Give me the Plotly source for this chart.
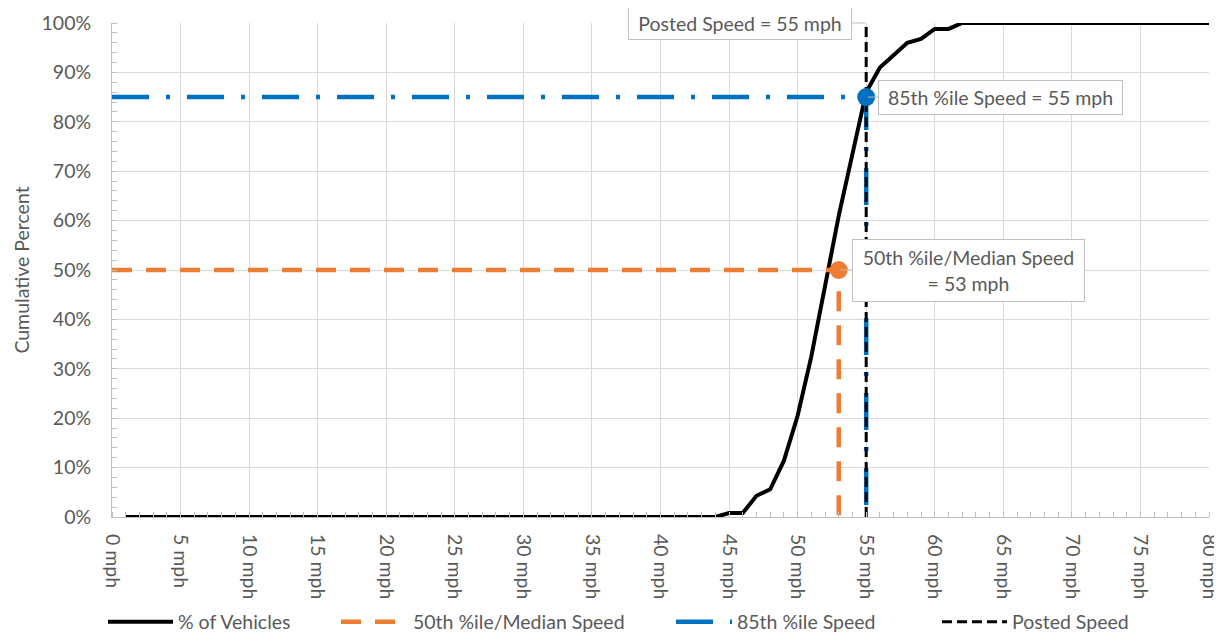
import plotly.graph_objects as go

# ---- data ----
speed_mph = [1, 2, 3, 4, 5, 6, 7, 8, 9, 10, 11, 12, 13, 14, 15, 16, 17, 18, 19, 20,
             21, 22, 23, 24, 25, 26, 27, 28, 29, 30, 31, 32, 33, 34, 35, 36, 37, 38, 39, 40,
             41, 42, 43, 44, 45, 46, 47, 48, 49, 50, 51, 52, 53, 54, 55, 56, 57, 58, 59, 60,
             61, 62, 63, 64, 65, 66, 67, 68, 69, 70, 71, 72, 73, 74, 75, 76, 77, 78, 79, 80]
vehicle_pct = [0, 0, 0, 0, 0, 0, 0, 0, 0, 0, 0, 0, 0, 0, 0, 0, 0, 0, 0, 0,
               0, 0, 0, 0, 0, 0, 0, 0, 0, 0, 0, 0, 0, 0, 0, 0, 0, 0, 0, 0,
               0, 0, 0, 0, 0.8, 0.8, 4.3, 5.6, 11.4, 20.5, 32.5, 47, 61, 73.5, 86, 91, 93.4, 96, 96.8, 98.8,
               98.8, 100, 100, 100, 100, 100, 100, 100, 100, 100, 100, 100, 100, 100, 100, 100, 100, 100, 100, 100]

median_speed = 53
median_pct = 50
p85_speed = 55
p85_pct = 85
posted_speed = 55

median_x = [0, median_speed, median_speed]
median_y = [median_pct, median_pct, 0]
p85_x = [0, p85_speed, p85_speed]
p85_y = [p85_pct, p85_pct, 0]
posted_x = [posted_speed, posted_speed]
posted_y = [0, 100]

x_tickvals = [0, 5, 10, 15, 20, 25, 30, 35, 40, 45, 50, 55, 60, 65, 70, 75, 80]
x_ticktext = [f"{v} mph" for v in x_tickvals]
y_tickvals = [0, 10, 20, 30, 40, 50, 60, 70, 80, 90, 100]
y_ticktext = [f"{v}%" for v in y_tickvals]

FONT = "Lato"
FS = 19.5
TXT = "#595959"
BLACK = "#000000"
ORANGE = "#ED7D31"
BLUE = "#0070C0"
GRID = "#d9d9d9"
AXIS = "#bfbfbf"

# the page body has an 8px margin; the figure is sized so the plot area
# lands at x 112..1209, y 23..517 in the 1222x637 window
OFF = 8
W, H = 1222 - OFF, 637 - OFF
ML, MR, MT, MB = 112 - OFF, 13, 23 - OFF, 120
PW = W - ML - MR


def px_to_paper_x(px):
    return (px - OFF - ML) / PW


fig = go.Figure()

fig.add_trace(go.Scatter(x=speed_mph, y=vehicle_pct, mode="lines", name="% of Vehicles",
                         line=dict(color=BLACK, width=4), legend="legend"))
fig.add_trace(go.Scatter(x=median_x, y=median_y, mode="lines", name="50th %ile/Median Speed",
                         line=dict(color=ORANGE, width=4.5, dash="20px,14px"), legend="legend2"))
fig.add_trace(go.Scatter(x=p85_x, y=p85_y, mode="lines", name="85th %ile Speed",
                         line=dict(color=BLUE, width=4.5, dash="37px,17px,4px,17px"), legend="legend3"))
fig.add_trace(go.Scatter(x=posted_x, y=posted_y, mode="lines", name="Posted Speed",
                         line=dict(color=BLACK, width=3, dash="10px,5px"), legend="legend4"))
fig.add_trace(go.Scatter(x=[median_speed], y=[median_pct], mode="markers", showlegend=False,
                         marker=dict(color=ORANGE, size=18), hoverinfo="skip"))
fig.add_trace(go.Scatter(x=[p85_speed], y=[p85_pct], mode="markers", showlegend=False,
                         marker=dict(color=BLUE, size=18), hoverinfo="skip"))

ann_common = dict(showarrow=True, arrowhead=0, arrowwidth=1, arrowcolor=AXIS,
                  bgcolor="white", bordercolor=AXIS, borderwidth=1, borderpad=4,
                  font=dict(family=FONT, size=FS, color=TXT), ay=0)
fig.add_annotation(x=posted_speed, y=100, text="Posted Speed = 55 mph", ax=-126,
                   width=214, height=23, standoff=1, **ann_common)
fig.add_annotation(x=p85_speed, y=p85_pct, text="85th %ile Speed = 55 mph", ax=134,
                   width=235, height=25, standoff=2, **ann_common)
fig.add_annotation(x=median_speed, y=median_pct, text="50th %ile/Median Speed<br>= 53 mph", ax=130,
                   width=223, height=53, standoff=2, **ann_common)


def legend_at(px_left, itemwidth):
    return dict(orientation="h", x=px_to_paper_x(px_left), xanchor="left",
                yref="container", y=1 - (622 - OFF) / H, yanchor="middle",
                itemwidth=itemwidth, font=dict(family=FONT, size=FS, color=TXT),
                bgcolor="rgba(0,0,0,0)", borderwidth=0)


fig.update_layout(
    width=W, height=H,
    margin=dict(l=ML, r=MR, t=MT, b=MB, autoexpand=False),
    paper_bgcolor="white", plot_bgcolor="white",
    font=dict(family=FONT, size=FS, color=TXT),
    showlegend=True,
    legend=legend_at(103, 65),
    legend2=legend_at(336, 67),
    legend3=legend_at(671, 56),
    legend4=legend_at(937, 65),
)
fig.update_xaxes(range=[0, 80], tickvals=x_tickvals, ticktext=x_ticktext, tickangle=90,
                 showgrid=True, gridcolor=GRID, gridwidth=1, automargin=False,
                 showline=True, linecolor=AXIS, linewidth=1,
                 ticks="", ticklabelstandoff=12, zeroline=False,
                 minor=dict(dtick=1, ticks="inside", ticklen=5, tickcolor=AXIS, showgrid=False))
fig.update_yaxes(range=[0, 100], tickvals=y_tickvals, ticktext=y_ticktext,
                 showgrid=True, gridcolor=GRID, gridwidth=1, automargin=False,
                 showline=True, linecolor=AXIS, linewidth=1,
                 ticks="", ticklabelstandoff=16, zeroline=False,
                 title=dict(text="Cumulative Percent", standoff=6, font=dict(family=FONT, size=FS, color=TXT)),
                 minor=dict(dtick=2, ticks="inside", ticklen=5, tickcolor=AXIS, showgrid=False))

fig.write_html("out.html")
